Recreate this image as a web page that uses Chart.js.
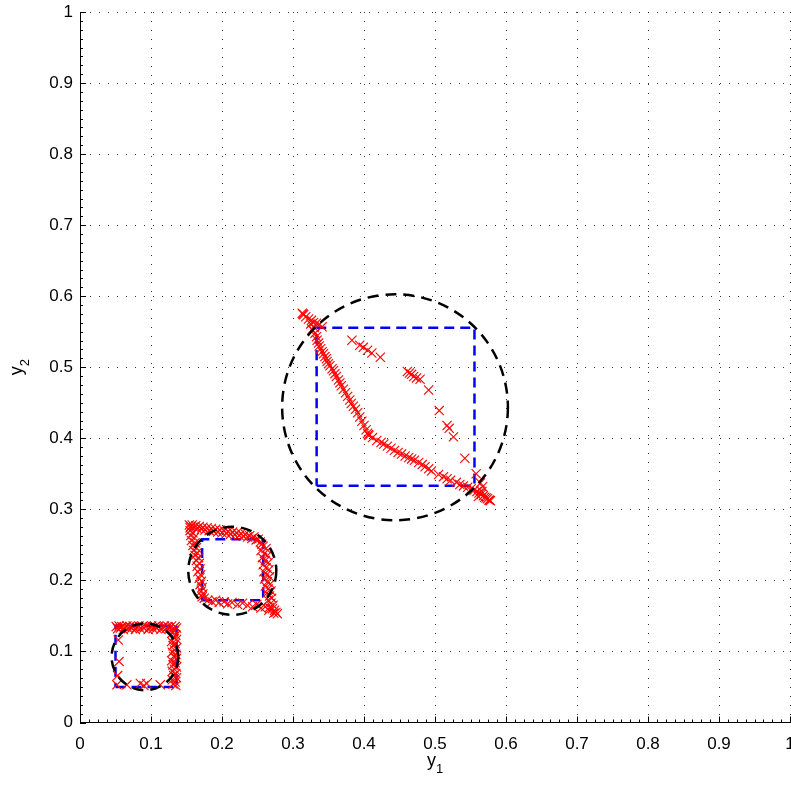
<!DOCTYPE html>
<html>
<head>
<meta charset="utf-8">
<script src="https://cdn.jsdelivr.net/npm/chart.js@4.4.1/dist/chart.umd.min.js"></script>
<style>
  html, body { margin: 0; padding: 0; background: #fff; overflow: hidden; }
  #chart { display: block; }
</style>
</head>
<body>
<canvas id="chart" width="800" height="787"></canvas>
<script>
// axis ticks
const tickValues = [0, 0.1, 0.2, 0.3, 0.4, 0.5, 0.6, 0.7, 0.8, 0.9, 1];
const tickLabels = ['0', '0.1', '0.2', '0.3', '0.4', '0.5', '0.6', '0.7', '0.8', '0.9', '1'];

// dashed boxes (same range on y1 and y2)
const boxLo = [0.050, 0.172, 0.3333];
const boxHi = [0.136, 0.258, 0.5556];

// dashed circles
const ringX = [0.0915, 0.2145, 0.4437];
const ringY = [0.0925, 0.2135, 0.4437];
const ringR = [0.047, 0.062, 0.159];

// samples, small cluster
const crossesA = [
  [0.051,0.135],[0.053,0.132],[0.055,0.136],[0.057,0.133],[0.059,0.135],[0.061,0.131],[0.063,0.134],[0.066,0.136],
  [0.068,0.132],[0.070,0.135],[0.073,0.133],[0.075,0.136],[0.078,0.131],[0.080,0.134],[0.083,0.136],[0.085,0.132],
  [0.088,0.135],[0.090,0.133],[0.093,0.136],[0.096,0.131],[0.098,0.134],[0.101,0.136],[0.103,0.132],[0.106,0.135],
  [0.108,0.133],[0.111,0.136],[0.114,0.131],[0.116,0.134],[0.119,0.136],[0.121,0.132],[0.124,0.135],[0.126,0.133],
  [0.129,0.136],[0.131,0.132],[0.134,0.135],[0.136,0.133],
  [0.133,0.129],[0.130,0.126],[0.135,0.123],[0.132,0.120],[0.136,0.117],[0.129,0.114],[0.134,0.111],[0.131,0.108],
  [0.136,0.105],[0.133,0.102],[0.130,0.099],[0.135,0.096],[0.132,0.093],[0.136,0.090],[0.129,0.087],[0.134,0.084],
  [0.131,0.081],[0.136,0.078],[0.133,0.075],[0.130,0.072],[0.135,0.069],[0.132,0.066],[0.136,0.063],[0.130,0.060],
  [0.134,0.057],[0.131,0.054],[0.135,0.052],
  [0.054,0.116],[0.055,0.086],[0.053,0.066],[0.052,0.053],[0.066,0.053],[0.085,0.055],[0.090,0.052],[0.094,0.055],
  [0.113,0.053]
];

// samples, middle cluster
const crossesB = [
  [0.154,0.278],[0.156,0.276],[0.158,0.278],[0.155,0.274],[0.160,0.275],[0.163,0.277],[0.165,0.273],[0.168,0.276],
  [0.171,0.272],[0.173,0.275],[0.176,0.271],[0.179,0.274],[0.182,0.270],[0.185,0.273],[0.188,0.269],[0.191,0.272],
  [0.194,0.268],[0.197,0.271],[0.200,0.267],[0.203,0.270],[0.206,0.266],[0.209,0.269],[0.212,0.265],[0.215,0.268],
  [0.218,0.264],[0.221,0.267],[0.224,0.263],[0.227,0.266],[0.230,0.262],[0.233,0.265],[0.236,0.261],[0.239,0.263],
  [0.242,0.259],[0.245,0.261],[0.248,0.257],[0.251,0.258],[0.254,0.254],[0.256,0.251],
  [0.258,0.248],[0.262,0.245],[0.255,0.242],[0.260,0.238],[0.264,0.235],[0.257,0.232],[0.261,0.228],[0.265,0.225],
  [0.258,0.222],[0.262,0.218],[0.266,0.215],[0.259,0.212],[0.263,0.208],[0.267,0.205],[0.260,0.202],[0.264,0.198],
  [0.268,0.195],[0.261,0.192],[0.265,0.188],[0.269,0.185],[0.263,0.182],[0.267,0.178],[0.270,0.175],[0.265,0.172],
  [0.269,0.168],[0.272,0.165],[0.267,0.162],[0.271,0.160],[0.274,0.158],[0.276,0.155],[0.278,0.153],[0.273,0.154],
  [0.155,0.270],[0.159,0.267],[0.156,0.263],[0.161,0.260],[0.157,0.256],[0.162,0.253],[0.159,0.249],[0.164,0.246],
  [0.160,0.242],[0.165,0.239],[0.162,0.235],[0.167,0.232],[0.164,0.228],[0.168,0.224],[0.165,0.220],[0.169,0.216],
  [0.166,0.212],[0.170,0.208],[0.168,0.203],[0.171,0.199],[0.169,0.194],[0.172,0.190],[0.171,0.185],[0.173,0.181],
  [0.172,0.177],[0.175,0.175],
  [0.180,0.172],[0.186,0.170],[0.191,0.172],[0.196,0.169],[0.203,0.170],[0.208,0.167],[0.214,0.169],[0.222,0.166],
  [0.229,0.168],[0.236,0.165],[0.243,0.163],[0.249,0.166],[0.255,0.161],[0.261,0.163],[0.266,0.158]
];

// samples, large cluster
const crossesC = [
  [0.313,0.576],[0.314,0.575],[0.315,0.574],[0.318,0.571],[0.322,0.568],[0.326,0.566],[0.329,0.563],[0.333,0.562],
  [0.337,0.560],[0.341,0.557],[0.325,0.561],[0.330,0.556],[0.327,0.553],[0.331,0.548],[0.333,0.543],[0.334,0.538],
  [0.336,0.534],[0.337,0.530],[0.339,0.526],[0.341,0.522],[0.343,0.519],[0.345,0.515],[0.347,0.512],[0.348,0.508],
  [0.350,0.505],[0.352,0.502],[0.355,0.498],[0.357,0.495],[0.359,0.491],[0.361,0.487],[0.364,0.482],[0.366,0.478],
  [0.368,0.474],[0.371,0.469],[0.374,0.464],[0.377,0.459],[0.380,0.454],[0.382,0.449],[0.385,0.445],[0.388,0.441],
  [0.391,0.436],[0.394,0.430],[0.397,0.424],[0.400,0.418],[0.403,0.412],[0.405,0.407],[0.406,0.405],[0.407,0.404],
  [0.412,0.401],[0.418,0.397],[0.424,0.394],[0.428,0.392],[0.433,0.389],[0.438,0.386],[0.443,0.383],[0.448,0.380],
  [0.453,0.378],[0.458,0.375],[0.463,0.373],[0.467,0.371],[0.471,0.369],[0.477,0.366],[0.482,0.363],[0.486,0.360],
  [0.491,0.357],[0.495,0.354],[0.505,0.349],[0.512,0.346],[0.517,0.343],[0.522,0.341],[0.530,0.338],[0.535,0.335],
  [0.540,0.333],[0.546,0.331],[0.551,0.329],[0.555,0.327],[0.559,0.325],[0.562,0.323],[0.565,0.321],[0.568,0.319],
  [0.570,0.317],[0.572,0.316],[0.574,0.315],[0.576,0.313],[0.577,0.313],[0.578,0.312],[0.566,0.325],[0.561,0.318],
  [0.383,0.538],[0.394,0.531],[0.399,0.528],[0.405,0.524],[0.411,0.520],[0.423,0.514],
  [0.461,0.494],[0.464,0.492],[0.467,0.490],[0.470,0.487],[0.474,0.485],[0.479,0.483],
  [0.491,0.468],[0.506,0.439],[0.517,0.418],[0.520,0.414],[0.526,0.402],[0.542,0.372],[0.558,0.350],[0.564,0.337],
  [0.567,0.332]
];

const toPts = arr => arr.map(p => ({ x: p[0], y: p[1] }));

const boxSets = boxLo.map((lo, i) => ({
  type: 'line',
  data: [
    { x: lo, y: lo }, { x: boxHi[i], y: lo }, { x: boxHi[i], y: boxHi[i] },
    { x: lo, y: boxHi[i] }, { x: lo, y: lo }
  ],
  showLine: true,
  borderColor: '#0000ff',
  borderWidth: 2.5,
  borderDash: [10, 6],
  pointRadius: 0,
  fill: false,
  tension: 0,
  order: 2
}));

const crossSets = [crossesA, crossesB, crossesC].map(arr => ({
  type: 'scatter',
  data: toPts(arr),
  pointStyle: 'crossRot',
  pointRadius: 6.5,
  pointBorderWidth: 1.1,
  borderColor: '#ff0000',
  backgroundColor: '#ff0000',
  showLine: false,
  order: 1
}));

// dashed circles on top of everything
const ringPlugin = {
  id: 'rings',
  afterDatasetsDraw(chart) {
    const { ctx, chartArea, scales: { x, y } } = chart;
    ctx.save();
    ctx.beginPath();
    ctx.rect(chartArea.left, chartArea.top, chartArea.right - chartArea.left, chartArea.bottom - chartArea.top);
    ctx.clip();
    ctx.strokeStyle = '#000';
    ctx.lineWidth = 2.5;
    ctx.setLineDash([11, 7]);
    ringX.forEach((cx, i) => {
      const px = x.getPixelForValue(cx);
      const py = y.getPixelForValue(ringY[i]);
      const rx = x.getPixelForValue(cx + ringR[i]) - px;
      const ry = py - y.getPixelForValue(ringY[i] + ringR[i]);
      ctx.beginPath();
      ctx.ellipse(px, py, rx, ry, 0, 0, Math.PI * 2);
      ctx.stroke();
    });
    ctx.restore();
  }
};

// inward major/minor tick marks plus subscripted axis titles
const axisPlugin = {
  id: 'axisDecor',
  afterDraw(chart) {
    const { ctx, chartArea, scales: { x, y } } = chart;
    ctx.save();
    ctx.strokeStyle = '#000';
    ctx.lineWidth = 1;
    ctx.beginPath();
    for (let k = 0; k <= 80; k++) {
      const v = k / 80;
      const len = k % 8 === 0 ? 6 : 3;
      const px = Math.round(x.getPixelForValue(v)) + 0.5;
      ctx.moveTo(px, chartArea.bottom);
      ctx.lineTo(px, chartArea.bottom - len);
      const py = Math.round(y.getPixelForValue(v)) + 0.5;
      ctx.moveTo(chartArea.left, py);
      ctx.lineTo(chartArea.left + len, py);
    }
    ctx.stroke();

    ctx.fillStyle = '#000';
    ctx.textBaseline = 'alphabetic';
    ctx.textAlign = 'left';
    const big = '18px "Liberation Sans", Arial, sans-serif';
    const small = '13px "Liberation Sans", Arial, sans-serif';

    // y1 under the x axis
    const cx = (chartArea.left + chartArea.right) / 2 - 8;
    ctx.font = big;
    ctx.fillText('y', cx, 766);
    const wy = ctx.measureText('y').width;
    ctx.font = small;
    ctx.fillText('1', cx + wy, 773);

    // y2 beside the y axis, reading upwards
    ctx.translate(22, (chartArea.top + chartArea.bottom) / 2 + 8);
    ctx.rotate(-Math.PI / 2);
    ctx.font = big;
    ctx.fillText('y', 0, 0);
    ctx.font = small;
    ctx.fillText('2', wy, 7);
    ctx.restore();
  }
};

const axisFont = { family: '"Liberation Sans", Arial, sans-serif', size: 17 };

function scaleOpts(fitFn) {
  return {
    type: 'linear',
    min: 0,
    max: 1,
    afterBuildTicks: s => { s.ticks = tickValues.map(v => ({ value: v })); },
    afterFit: fitFn,
    ticks: {
      callback: (v, i) => tickLabels[i],
      font: axisFont,
      color: '#000',
      autoSkip: false,
      maxRotation: 0
    },
    grid: { color: 'rgba(0,0,0,0.8)', lineWidth: 1, drawTicks: false },
    border: { display: true, color: '#000', width: 1, dash: [1, 8] }
  };
}

// fixed axis band sizes; end labels may run past the plot edges
const xOpts = scaleOpts(s => { s.height = 64.5; s.paddingLeft = 0; s.paddingRight = 0; });
xOpts.ticks.padding = 12;
const yOpts = scaleOpts(s => { s.width = 80; s.paddingTop = 0; s.paddingBottom = 0; });
yOpts.ticks.padding = 7;

new Chart(document.getElementById('chart'), {
  type: 'scatter',
  data: { datasets: [...boxSets, ...crossSets] },
  options: {
    responsive: false,
    maintainAspectRatio: false,
    animation: false,
    layout: { padding: { left: 0, right: 10, top: 12, bottom: 0 } },
    plugins: { legend: { display: false }, tooltip: { enabled: false } },
    scales: { x: xOpts, y: yOpts }
  },
  plugins: [ringPlugin, axisPlugin]
});
</script>
</body>
</html>
